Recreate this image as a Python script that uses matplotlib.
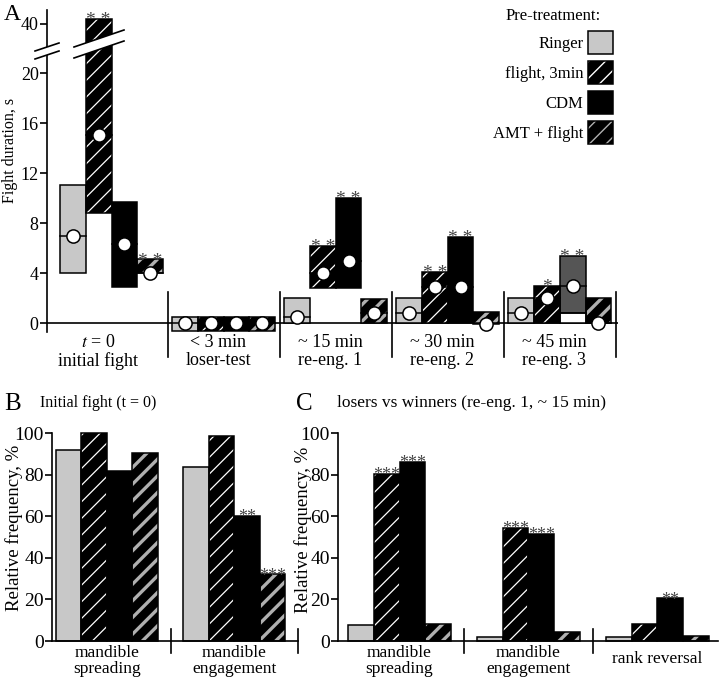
import numpy as np
import matplotlib
matplotlib.use("Agg")
import matplotlib.pyplot as plt
from matplotlib.patches import Patch, Polygon
from matplotlib.lines import Line2D

plt.rcParams['font.family'] = ['Liberation Serif', 'DejaVu Serif']
plt.rcParams['mathtext.fontset'] = 'stix'
plt.rcParams['hatch.linewidth'] = 1.0

# ---------------- data ----------------
treatments = ['Ringer', 'flight, 3min', 'CDM', 'AMT + flight']

# panel A: fight duration (s), box = range, circle = median
a_groups = [r'$t$ = 0' + '\ninitial fight', '< 3 min\nloser-test',
            '~ 15 min\nre-eng. 1', '~ 30 min\nre-eng. 2', '~ 45 min\nre-eng. 3']
ringer_low = [4.0, -0.6, 0.0, 0.0, 0.0]
ringer_high = [11.0, 0.5, 2.0, 2.0, 2.0]
ringer_med = [7.0, 0.0, 0.5, 0.8, 0.8]
flight_low = [8.8, -0.6, 2.8, 0.0, 0.0]
flight_high = [40.4, 0.5, 6.2, 4.1, 3.0]
flight_med = [15.0, 0.0, 4.0, 2.9, 2.0]
cdm_low = [2.9, -0.6, 2.8, 0.0, 0.8]
cdm_high = [9.7, 0.5, 10.0, 6.9, 5.4]
cdm_med = [6.3, 0.0, 5.0, 2.9, 3.0]
cdm_white_base = [0, 0, 0, 0, 0.8]
amt_low = [4.0, -0.6, 0.0, 0.0, 0.0]
amt_high = [5.1, 0.5, 1.9, 0.9, 2.0]
amt_med = [4.0, 0.0, 0.8, -0.1, 0.0]
ringer_sig = ['', '', '', '', '']
flight_sig = ['**', '', '**', '**', '*']
cdm_sig = ['', '', '**', '**', '**']
amt_sig = ['**', '', '', '', '']

# panel B: initial fight, relative frequency %
b_cats = ['mandible\nspreading', 'mandible\nengagement']
b_ringer = [92, 83.5]
b_flight = [100, 98.5]
b_cdm = [81.5, 60]
b_amt = [90.5, 32]
b_sig = [['', ''], ['', ''], ['', '**'], ['', '***']]

# panel C: losers vs winners, relative frequency %
c_cats = ['mandible\nspreading', 'mandible\nengagement', 'rank reversal']
c_ringer = [7.5, 2, 2]
c_flight = [80.5, 54.5, 8]
c_cdm = [86, 51.5, 20.5]
c_amt = [8, 4.5, 2.2]
c_sig = [['', '', ''], ['***', '***', ''], ['***', '***', '**'], ['', '', '']]

HAS_HLW = hasattr(Patch, 'set_hatch_linewidth')
# styles: face, hatch, hatch colour, hatch linewidth
styles = [('#c8c8c8', None, None, None),
          ('black', '//', 'white', 0.9),
          ('black', None, None, None),
          ('black', '//' if HAS_HLW else '////', '#b0b0b0', 2.4)]

W, H = 720, 680
fig = plt.figure(figsize=(W / 100, H / 100), dpi=100)


def rect(x0, y0, x1, y1):
    # pixel box (top-left origin) -> figure fraction
    return [x0 / W, 1 - y1 / H, (x1 - x0) / W, (y1 - y0) / H]


def fp(x, y):
    return (x / W, 1 - y / H)


def set_hlw(patch, lw):
    if HAS_HLW and lw:
        patch.set_hatch_linewidth(lw)


def draw_bar(ax, x, bottom, top, width, style, face=None, z=2):
    fc, hatch, hc, hlw = style
    if face is not None:
        fc = face
    bars = ax.bar(x, top - bottom, bottom=bottom, width=width, color=fc,
                  hatch=hatch, edgecolor=hc if hc else fc, linewidth=0,
                  zorder=z, clip_on=False)
    for p in bars:
        set_hlw(p, hlw)
    ax.bar(x, top - bottom, bottom=bottom, width=width, fill=False,
           edgecolor='black', linewidth=1.1, zorder=z + 0.1, clip_on=False)


def stars(ax, x, y, s, size=14, spaced=True):
    if not s:
        return
    txt = ' '.join(s) if spaced else s
    ax.annotate(txt, (x, y), xytext=(0, -4.5), textcoords='offset points',
                ha='center', va='baseline', fontsize=size, color='#444444',
                annotation_clip=False, zorder=6)


# ---------------- panel A ----------------
axA = fig.add_axes(rect(47, 10, 618, 332))


def fwd(y):
    y = np.asarray(y, float)
    return np.where(y <= 21.28, y,
                    np.where(y >= 38.48, y - 16.08,
                             21.28 + (y - 21.28) * (1.12 / 17.2)))


def inv(t):
    t = np.asarray(t, float)
    return np.where(t <= 21.28, t,
                    np.where(t >= 22.4, t + 16.08,
                             21.28 + (t - 21.28) * (17.2 / 1.12)))


axA.set_yscale('function', functions=(fwd, inv))
axA.set_ylim(-0.72, 41.12)
axA.set_xlim(-0.576, 4.52)
axA.set_yticks([0, 4, 8, 12, 16, 20, 40])
axA.set_yticklabels(['0', '4', '8', '12', '16', '20', '40'])
axA.set_xticks([])
for sp in ['top', 'right', 'bottom']:
    axA.spines[sp].set_visible(False)
axA.spines['left'].set_linewidth(1.2)
axA.tick_params(axis='y', direction='out', length=5, width=1.2,
                labelsize=13, pad=1)
axA.axhline(0, color='black', lw=1.2, zorder=1)

bw = 0.23
lows = [ringer_low, flight_low, cdm_low, amt_low]
highs = [ringer_high, flight_high, cdm_high, amt_high]
meds = [ringer_med, flight_med, cdm_med, amt_med]
sigs = [ringer_sig, flight_sig, cdm_sig, amt_sig]
for g in range(len(a_groups)):
    for j in range(4):
        x = g + (j - 1.5) * bw
        face = None
        if j == 2 and cdm_white_base[g] > 0:
            draw_bar(axA, x, 0, cdm_white_base[g], bw,
                     ('white', None, None, None))
            face = '#555555'
        draw_bar(axA, x, lows[j][g], highs[j][g], bw, styles[j], face=face)
        axA.plot([x - bw / 2, x + bw / 2], [meds[j][g]] * 2, color='black',
                 lw=1.1, zorder=4, clip_on=False)
        axA.plot(x, meds[j][g], 'o', ms=9.5, mfc='white', mec='black',
                 mew=1.1, zorder=5, clip_on=False)
        stars(axA, x, highs[j][g], sigs[j][g])
    axA.plot([g + 0.5, g + 0.5], [2.5, -2.7], color='black', lw=1.2,
             clip_on=False)
    axA.text(g - (0.12 if g == 0 else 0.05), -2.3, a_groups[g], ha='center',
             va='center', fontsize=13, linespacing=1.05)

# break marks
for poly, lines in [
        ([(74, 47), (124, 30), (124, 41), (74, 58)],
         [[(74, 47), (124, 30)], [(74, 58), (124, 41)]]),
        ([(35, 51), (59, 43), (59, 51), (35, 59)],
         [[(35, 51), (59, 43)], [(35, 59), (59, 51)]])]:
    fig.add_artist(Polygon([fp(*p) for p in poly], closed=True,
                           facecolor='white', edgecolor='none',
                           transform=fig.transFigure, zorder=10))
    for ln in lines:
        (x0, y0), (x1, y1) = fp(*ln[0]), fp(*ln[1])
        fig.add_artist(Line2D([x0, x1], [y0, y1], color='black', lw=1.2,
                              transform=fig.transFigure, zorder=11))

fig.text(10 / W, 1 - 150 / H, 'Fight duration, s', rotation=90,
         ha='center', va='center', fontsize=11.5)
fig.text(4 / W, 1 - 14 / H, 'A', ha='left', va='center', fontsize=17)

# legend
handles = []
for fc, hatch, hc, hlw in styles:
    if hatch:
        hp = Patch(facecolor=fc, hatch=hatch, edgecolor=hc, lw=0)
        set_hlw(hp, hlw)
        handles.append((hp, Patch(fill=False, edgecolor='black', lw=1.1)))
    else:
        handles.append(Patch(facecolor=fc, edgecolor='black', lw=1.1))
leg = axA.legend(handles, treatments, loc='upper right',
                 bbox_to_anchor=fp(620, 1), bbox_transform=fig.transFigure,
                 markerfirst=False, frameon=False, fontsize=12,
                 title='Pre-treatment:', title_fontsize=12,
                 handlelength=1.55, handleheight=1.7, labelspacing=0.45,
                 handletextpad=0.25, borderaxespad=0)


# ---------------- panels B and C ----------------
def freq_panel(box, cats, vals, sig, xlim, bw):
    ax = fig.add_axes(rect(*box))
    ax.set_ylim(0, 100)
    ax.set_xlim(*xlim)
    ax.set_yticks([0, 20, 40, 60, 80, 100])
    ax.set_xticks([])
    for sp in ['top', 'right']:
        ax.spines[sp].set_visible(False)
    ax.spines['left'].set_linewidth(1.2)
    ax.spines['bottom'].set_linewidth(1.2)
    ax.tick_params(axis='y', direction='out', length=5, width=1.2,
                   labelsize=14, pad=1)
    for g in range(len(cats)):
        for j in range(4):
            x = g + (j - 1.5) * bw
            draw_bar(ax, x, 0, vals[j][g], bw, styles[j])
            stars(ax, x, vals[j][g], sig[j][g], size=13, spaced=False)
        ax.plot([g + 0.5, g + 0.5], [-6, 6], color='black', lw=1.2,
                clip_on=False)
        ax.text(g, -0.095 if '\n' in cats[g] else -0.087, cats[g],
                transform=ax.get_xaxis_transform(), ha='center',
                va='center', fontsize=12.5, linespacing=1.0)
    return ax


axB = freq_panel((52, 433, 298, 641), b_cats,
                 [b_ringer, b_flight, b_cdm, b_amt], b_sig, (-0.43, 1.5), 0.2)
axC = freq_panel((338, 433, 718, 641), c_cats,
                 [c_ringer, c_flight, c_cdm, c_amt], c_sig, (-0.477, 2.47),
                 0.2)
fig.text(14 / W, 1 - 528 / H, 'Relative frequency, %', rotation=90,
         ha='center', va='center', fontsize=13.5)
fig.text(303 / W, 1 - 530 / H, 'Relative frequency, %', rotation=90,
         ha='center', va='center', fontsize=13.5)

fig.text(4 / W, 1 - 404 / H, 'B', ha='left', va='center', fontsize=18)
fig.text(40 / W, 1 - 403 / H, 'Initial fight (t = 0)', ha='left',
         va='center', fontsize=11.5)
fig.text(296 / W, 1 - 404 / H, 'C', ha='left', va='center', fontsize=18)
fig.text(337 / W, 1 - 403 / H, 'losers vs winners (re-eng. 1, ~ 15 min)',
         ha='left', va='center', fontsize=12.5)

fig.savefig('out.png', dpi=100)
